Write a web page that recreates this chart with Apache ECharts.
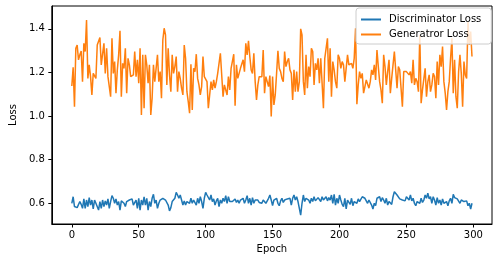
<!DOCTYPE html>
<html>
<head>
<meta charset="utf-8">
<script src="https://cdn.jsdelivr.net/npm/echarts@6/dist/echarts.min.js"></script>
<style>html,body{margin:0;padding:0;background:#fff}#c{width:497px;height:262px}</style>
</head>
<body>
<div id="c"></div>
<script>
var seriesNames = ['Discriminator Loss', 'Generatror Loss'];
var xTicks = [0, 50, 100, 150, 200, 250, 300];
var yTicks = [0.6, 0.8, 1.0, 1.2, 1.4];

var discLoss = [
0.600,0.630,0.585,0.592,0.580,0.574,0.608,0.595,0.577,0.620,
0.577,0.615,0.585,0.626,0.592,0.615,0.574,0.615,0.600,0.592,
0.569,0.608,0.577,0.615,0.585,0.611,0.592,0.620,0.577,0.608,
0.635,0.623,0.600,0.620,0.592,0.608,0.569,0.611,0.615,0.600,
0.585,0.608,0.611,0.615,0.608,0.620,0.592,0.595,0.615,0.577,
0.623,0.569,0.615,0.592,0.630,0.592,0.623,0.569,0.608,0.585,
0.623,0.641,0.600,0.615,0.577,0.600,0.615,0.615,0.623,0.620,
0.615,0.623,0.592,0.565,
0.580,0.608,0.600,0.623,0.650,0.638,0.623,0.638,
0.615,0.592,0.611,0.592,0.608,0.615,0.600,0.623,0.600,0.615,
0.623,0.592,0.623,0.600,0.630,0.608,0.577,0.623,0.650,0.638,
0.630,0.615,0.638,0.608,0.620,0.592,0.611,0.623,0.585,0.615,
0.600,0.623,0.608,0.635,0.600,0.630,0.608,0.615,0.608,0.600,
0.620,0.604,0.615,0.600,0.615,0.608,0.623,0.600,0.615,0.635,
0.600,0.623,0.592,0.626,0.600,0.615,0.608,0.615,0.604,0.611,
0.600,0.615,0.608,0.600,0.604,0.623,0.638,0.615,0.589,
0.615,0.608,0.623,0.600,0.589,0.611,0.623,0.604,0.615,0.611,
0.620,0.615,0.623,0.592,0.623,0.638,0.615,0.630,0.608,0.611,
0.546,0.600,0.638,0.608,0.623,0.630,0.615,0.600,0.623,0.608,
0.630,0.611,0.615,0.626,0.623,0.608,0.630,0.615,0.620,0.630,
0.611,0.626,0.615,0.638,0.600,0.641,0.592,0.623,0.600,0.638,
0.615,0.595,0.585,0.623,0.574,0.615,0.608,0.595,0.623,0.589,
0.608,0.615,0.600,0.620,0.608,0.600,0.630,0.638,0.623,0.615,
0.600,0.615,0.608,0.592,0.574,0.600,0.589,
0.623,0.615,0.630,0.608,0.626,0.615,0.600,0.623,0.592,0.608,
0.615,0.595,0.630,0.653,0.656,0.638,0.630,0.620,0.626,0.615,
0.623,0.611,0.630,0.623,0.615,0.638,0.611,0.623,0.600,0.589,
0.608,0.604,0.600,0.623,0.604,0.615,0.638,0.623,0.646,0.620,
0.630,0.600,0.630,0.615,0.592,0.626,0.600,0.615,0.592,0.620,
0.600,0.592,0.608,0.589,0.611,0.623,0.600,0.641,0.626,0.630,
0.620,0.623,0.600,0.615,0.623,0.608,0.600,0.611,0.589,0.600,
0.574,0.600
];

var genLoss = [
1.138,1.224,1.043,1.311,1.326,1.258,1.281,1.299,1.158,1.334,
1.296,1.441,1.173,1.235,1.181,1.097,1.196,1.204,1.173,1.326,
1.326,1.360,1.235,1.235,1.334,1.196,1.311,1.181,1.173,1.089,
1.357,1.196,1.250,1.105,1.212,1.281,1.391,1.089,1.242,1.219,
1.311,1.105,1.265,1.235,1.181,1.189,1.189,1.296,1.181,1.258,
1.151,1.311,1.005,1.281,1.036,1.281,1.235,1.151,1.235,1.005,
1.082,1.235,1.158,1.166,1.281,1.158,1.204,1.082,1.349,1.403,
1.372,1.143,
1.311,1.189,1.112,1.281,1.196,1.227,1.273,1.112,1.204,1.173,
1.128,1.097,1.326,1.265,1.112,1.066,1.013,1.238,1.028,1.219,
1.204,1.284,1.173,1.143,1.097,1.135,1.273,1.181,1.173,1.158,
1.036,1.097,1.158,1.120,1.166,1.128,1.158,1.196,1.192,1.288,
1.293,1.089,1.143,1.135,1.097,1.181,1.120,1.219,1.227,1.284,
1.048,1.235,1.173,1.166,1.219,1.212,1.258,1.204,1.334,1.281,
1.345,1.273,1.212,1.196,1.288,1.158,1.074,1.143,1.181,1.186,
1.181,1.303,1.105,1.181,1.158,1.135,1.186,0.998,
1.181,1.051,1.097,1.196,1.299,1.219,1.204,1.173,1.158,1.296,
1.227,1.250,1.265,1.212,1.196,1.074,1.212,1.112,1.204,1.112,
1.158,1.400,1.372,1.158,1.097,1.281,1.128,1.227,1.181,1.311,
1.296,1.143,1.242,1.212,1.265,1.151,1.265,1.265,1.036,1.265,
1.311,1.357,1.158,1.311,1.089,1.250,1.212,1.158,1.128,1.281,
1.265,1.219,1.250,1.235,1.158,1.151,1.281,1.235,1.238,1.242,
1.219,1.265,1.403,1.054,1.143,1.204,1.173,1.196,1.105,1.135,
1.166,1.173,1.128,
1.158,1.212,1.189,1.235,1.166,1.303,1.227,1.158,1.120,1.059,
1.281,1.227,1.143,1.204,1.258,1.105,1.173,1.235,1.296,1.212,
1.128,1.227,1.212,1.204,1.043,1.204,1.212,1.204,1.196,1.189,
1.204,1.151,1.258,1.143,1.173,1.158,1.112,1.372,1.059,1.120,
1.120,1.219,1.089,1.158,1.189,1.112,1.143,1.196,1.181,1.082,
1.250,1.143,1.281,1.227,1.319,1.158,1.105,1.028,1.112,1.158,
1.265,1.357,1.105,1.258,1.089,1.036,1.204,1.281,1.196,1.043,
1.250,1.189,1.173,1.433,1.326,1.388,1.273
];

function pairs(arr) {
  var out = [];
  for (var i = 0; i < arr.length; i++) out.push([i, arr[i]]);
  return out;
}

var chart = echarts.init(document.getElementById('c'), null, {renderer: 'canvas'});
var font = 'DejaVu Sans';
chart.setOption({
  animation: false,
  backgroundColor: '#ffffff',
  grid: {left: 44, top: 6, right: 5, bottom: 38, show: true, borderColor: '#000', borderWidth: 1, backgroundColor: 'transparent'},
  legend: {
    data: seriesNames,
    orient: 'vertical',
    left: 356, top: 8,
    padding: [6, 10, 4, 5],
    itemGap: 4,
    itemWidth: 20, itemHeight: 2,
    icon: 'rect',
    backgroundColor: 'rgba(255,255,255,0.8)',
    borderColor: '#cccccc', borderWidth: 1, borderRadius: 3,
    textStyle: {fontFamily: font, fontSize: 10, color: '#000', padding: [0, 0, 0, 3], lineHeight: 11}
  },
  xAxis: {
    type: 'value', min: -14.95, max: 313.95,
    name: 'Epoch', nameLocation: 'middle', nameGap: 20,
    nameTextStyle: {fontFamily: font, fontSize: 10, color: '#000'},
    splitLine: {show: false},
    axisLine: {show: true, onZero: false, lineStyle: {color: '#000', width: 1}},
    axisTick: {show: true, length: 3.5, lineStyle: {color: '#000'}, customValues: xTicks},
    axisLabel: {fontFamily: font, fontSize: 10, color: '#000', margin: 6, customValues: xTicks, formatter: function (v) { return String(v); }}
  },
  yAxis: {
    type: 'value', min: 0.505, max: 1.505,
    name: 'Loss', nameLocation: 'middle', nameGap: 26,
    nameTextStyle: {fontFamily: font, fontSize: 10, color: '#000'},
    splitLine: {show: false},
    axisLine: {show: true, onZero: false, lineStyle: {color: '#000', width: 1}},
    axisTick: {show: true, length: 3.5, lineStyle: {color: '#000'}, customValues: yTicks},
    axisLabel: {fontFamily: font, fontSize: 10, color: '#000', margin: 7, customValues: yTicks, formatter: function (v) { return v.toFixed(1); }}
  },
  series: [
    {name: seriesNames[0], type: 'line', data: pairs(discLoss), showSymbol: false, color: '#1f77b4', lineStyle: {width: 1.5, color: '#1f77b4'}, z: 2},
    {name: seriesNames[1], type: 'line', data: pairs(genLoss), showSymbol: false, color: '#ff7f0e', lineStyle: {width: 1.5, color: '#ff7f0e'}, z: 3}
  ]
});
</script>
</body>
</html>
